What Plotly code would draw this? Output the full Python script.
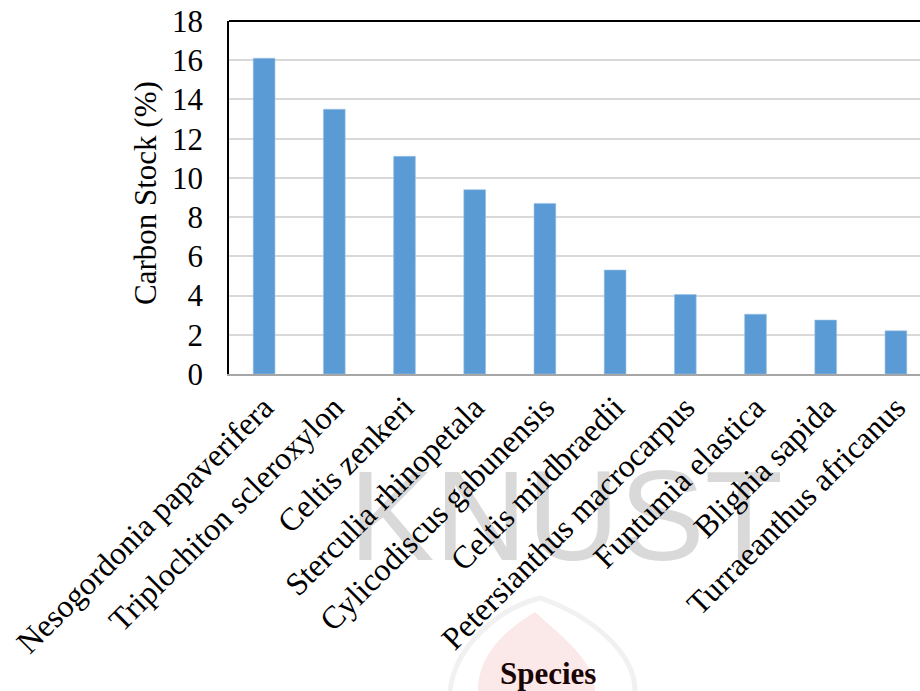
import plotly.graph_objects as go

# Tree species and their share of total carbon stock (%)
species = [
    "Nesogordonia papaverifera",
    "Triplochiton scleroxylon",
    "Celtis zenkeri",
    "Sterculia rhinopetala",
    "Cylicodiscus gabunensis",
    "Celtis mildbraedii",
    "Petersianthus macrocarpus",
    "Funtumia elastica",
    "Blighia sapida",
    "Turraeanthus africanus",
]
carbon_stock = [16.1, 13.5, 11.1, 9.4, 8.7, 5.3, 4.05, 3.05, 2.75, 2.2]
y_ticks = [0, 2, 4, 6, 8, 10, 12, 14, 16, 18]

W, H = 920, 691
PLOT_L, PLOT_T, PLOT_B = 229, 21, 374   # plot-area edges in pixels


def px(x):
    return x / W


def py(y):
    return (H - y) / H


SERIF = "Liberation Serif, Times New Roman, serif"
positions = list(range(len(species)))

fig = go.Figure()

# faint watermark lettering on a hidden backdrop subplot (drawn first, so it
# sits beneath the category labels of the chart)
fig.add_trace(go.Scatter(
    x=[566 / W], y=[(H - 528) / (H - PLOT_B)],
    xaxis="x", yaxis="y",
    mode="text",
    text=["KNUST"],
    textposition="middle center",
    textfont=dict(family="Liberation Sans, Arial, sans-serif", size=128, color="#d9d9d9"),
    hoverinfo="skip",
    showlegend=False,
))

fig.add_trace(go.Bar(
    x=positions,
    y=carbon_stock,
    xaxis="x2", yaxis="y2",
    width=0.31,
    marker=dict(color="#5b9bd5", line=dict(color="#9cc3e6", width=0.6)),
    showlegend=False,
))

plot_w = W - PLOT_L
fig.update_layout(
    width=W, height=H,
    margin=dict(l=0, r=0, t=0, b=0),
    plot_bgcolor="rgba(0,0,0,0)",
    paper_bgcolor="white",
    bargap=0.69,
    font=dict(family=SERIF, color="black"),
    xaxis=dict(domain=[0, 1], range=[0, 1], visible=False, fixedrange=True),
    yaxis=dict(domain=[0, (H - PLOT_B) / H], range=[0, 1], visible=False, fixedrange=True),
    xaxis2=dict(
        domain=[PLOT_L / W, 1],
        anchor="y2",
        range=[-0.5, -0.5 + plot_w / 70.2],
        tickmode="array",
        tickvals=positions,
        ticktext=species,
        tickangle=-45,
        tickfont=dict(family=SERIF, size=32, color="black"),
        showgrid=False,
        zeroline=False,
        showline=True,
        linecolor="#a6a6a6",
        linewidth=2,
        ticks="",
        automargin=False,
    ),
    yaxis2=dict(
        domain=[(H - PLOT_B) / H, (H - PLOT_T) / H],
        anchor="x2",
        range=[0, 18],
        tickmode="array",
        tickvals=y_ticks,
        tickfont=dict(family=SERIF, size=31, color="black"),
        showgrid=True,
        gridcolor="#d9d9d9",
        gridwidth=1.5,
        zeroline=False,
        showline=True,
        linecolor="black",
        linewidth=1.5,
        ticks="",
        ticklabelstandoff=18,
        automargin=False,
    ),
    shapes=[
        # top border of the plot frame
        dict(type="line", xref="paper", yref="paper",
             x0=px(PLOT_L), x1=1, y0=py(PLOT_T), y1=py(PLOT_T),
             line=dict(color="black", width=2)),
        # pale flame emblem behind the axis title
        dict(type="path", xref="paper", yref="paper", layer="below",
             path=(f"M {px(478)} {py(691)} "
                   f"C {px(478)} {py(655)}, {px(505)} {py(630)}, {px(535)} {py(612)} "
                   f"C {px(560)} {py(635)}, {px(595)} {py(660)}, {px(595)} {py(691)} Z"),
             fillcolor="rgba(230,110,110,0.16)", line=dict(width=0)),
        dict(type="path", xref="paper", yref="paper", layer="below",
             path=(f"M {px(450)} {py(691)} "
                   f"C {px(455)} {py(645)}, {px(500)} {py(608)}, {px(540)} {py(598)} "
                   f"C {px(590)} {py(615)}, {px(635)} {py(652)}, {px(635)} {py(691)}"),
             fillcolor="rgba(0,0,0,0)", line=dict(color="rgba(200,200,200,0.25)", width=5)),
    ],
    annotations=[
        dict(text="Carbon Stock (%)", xref="paper", yref="paper",
             x=px(145), y=py(193), xanchor="center", yanchor="middle",
             textangle=-90, showarrow=False,
             font=dict(family=SERIF, size=31, color="black")),
        dict(text="<b>Species</b>", xref="paper", yref="paper",
             x=px(548), y=py(673), xanchor="center", yanchor="middle",
             showarrow=False,
             font=dict(family=SERIF, size=31, color="#1a0505")),
    ],
)

fig.write_html("out.html")
